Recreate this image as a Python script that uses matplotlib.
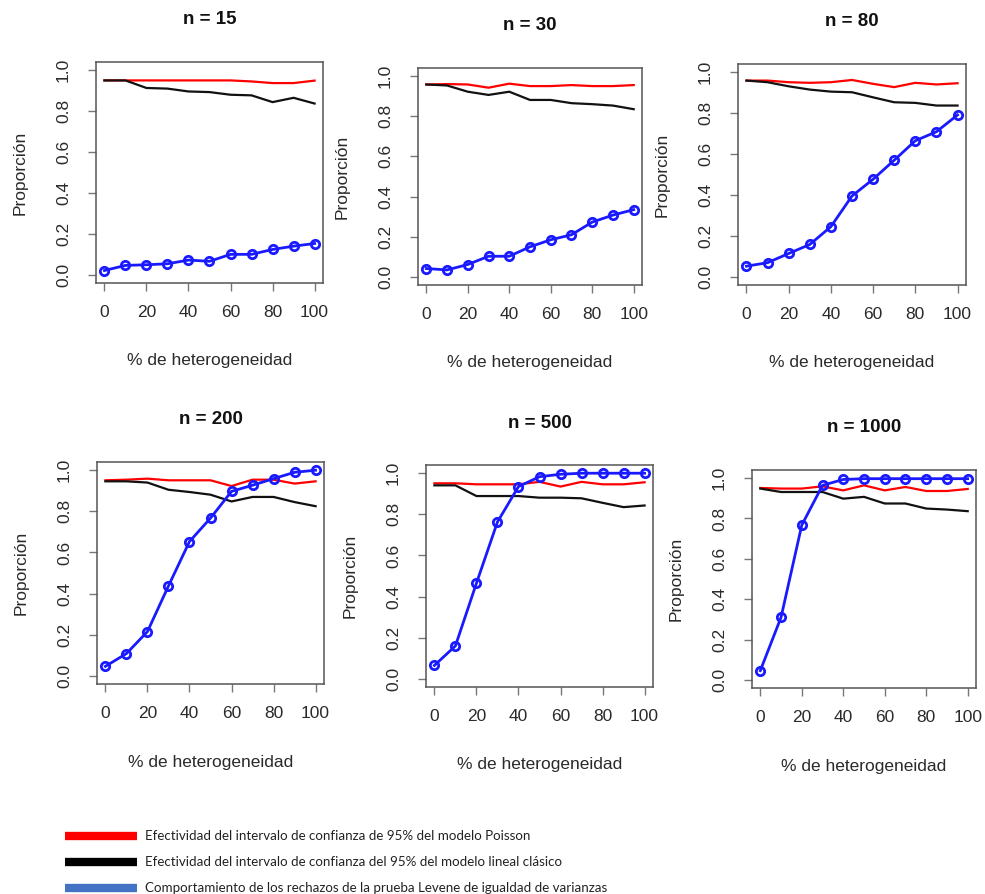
import matplotlib
matplotlib.use("Agg")
import matplotlib.pyplot as plt
from matplotlib.lines import Line2D

# Porcentaje de heterogeneidad evaluado
heterogeneidad = [0, 10, 20, 30, 40, 50, 60, 70, 80, 90, 100]
tamanos = ["n = 15", "n = 30", "n = 80", "n = 200", "n = 500", "n = 1000"]

# Efectividad del IC 95% del modelo Poisson
poisson = [
    [0.95, 0.95, 0.95, 0.95, 0.95, 0.95, 0.95, 0.945, 0.937, 0.937, 0.949],
    [0.958, 0.96, 0.958, 0.942, 0.962, 0.95, 0.95, 0.955, 0.95, 0.95, 0.955],
    [0.959, 0.959, 0.951, 0.948, 0.951, 0.962, 0.943, 0.927, 0.948, 0.94, 0.946],
    [0.951, 0.954, 0.959, 0.951, 0.951, 0.951, 0.923, 0.954, 0.954, 0.935, 0.946],
    [0.951, 0.951, 0.946, 0.946, 0.946, 0.958, 0.935, 0.958, 0.946, 0.946, 0.956],
    [0.951, 0.948, 0.948, 0.959, 0.939, 0.964, 0.939, 0.956, 0.936, 0.936, 0.946],
]

# Efectividad del IC 95% del modelo lineal clásico
lineal = [
    [0.95, 0.95, 0.913, 0.91, 0.896, 0.893, 0.88, 0.877, 0.844, 0.865, 0.837],
    [0.958, 0.953, 0.922, 0.906, 0.922, 0.881, 0.881, 0.865, 0.86, 0.853, 0.835],
    [0.959, 0.951, 0.931, 0.915, 0.905, 0.902, 0.877, 0.853, 0.85, 0.837, 0.837],
    [0.946, 0.946, 0.940, 0.905, 0.894, 0.881, 0.848, 0.870, 0.870, 0.845, 0.825],
    [0.941, 0.941, 0.889, 0.889, 0.889, 0.881, 0.881, 0.878, 0.856, 0.835, 0.843],
    [0.948, 0.931, 0.931, 0.931, 0.898, 0.907, 0.874, 0.874, 0.849, 0.844, 0.836],
]

# Proporción de rechazos de la prueba de Levene
levene = [
    [0.021, 0.046, 0.049, 0.054, 0.072, 0.066, 0.10, 0.10, 0.124, 0.14, 0.153],
    [0.042, 0.035, 0.062, 0.103, 0.103, 0.15, 0.185, 0.21, 0.273, 0.308, 0.335],
    [0.052, 0.069, 0.114, 0.158, 0.245, 0.395, 0.477, 0.570, 0.665, 0.709, 0.791],
    [0.046, 0.108, 0.215, 0.437, 0.653, 0.767, 0.897, 0.927, 0.959, 0.99, 1.0],
    [0.065, 0.16, 0.465, 0.763, 0.935, 0.983, 0.995, 1.0, 1.0, 1.0, 1.0],
    [0.046, 0.31, 0.767, 0.964, 0.993, 0.997, 0.997, 0.997, 0.997, 0.997, 0.997],
]

etiquetas_leyenda = [
    "Efectividad del intervalo de confianza de 95% del modelo Poisson",
    "Efectividad del intervalo de confianza del 95% del modelo lineal clásico",
    "Comportamiento de los rechazos de la prueba Levene de igualdad de varianzas",
]

W, H = 985, 894
# (left, top, right, bottom) of each panel in pixels
cajas = [
    (96, 62, 323, 283),
    (418, 68, 642, 285),
    (738, 64, 966, 285),
    (97, 462, 324, 684),
    (426, 465, 653, 687),
    (752, 470, 976, 688),
]

plt.rcParams["font.family"] = ["Liberation Sans", "DejaVu Sans"]
fig = plt.figure(figsize=(W / 100, H / 100), dpi=100)
texto = "#2a2a2a"

for i, (l, t, r, b) in enumerate(cajas):
    ax = fig.add_axes([l / W, 1 - b / H, (r - l) / W, (b - t) / H])
    ax.plot(heterogeneidad, poisson[i], color="#ff0000", lw=1.6)
    ax.plot(heterogeneidad, lineal[i], color="#111111", lw=1.6)
    ax.plot(heterogeneidad, levene[i], color="#1a1aff", lw=2.0, marker="o",
            ms=6, mfc="none", mec="#1a1aff", mew=2.0)
    ax.set_xlim(-4, 104)
    ax.set_ylim(-0.04, 1.04)
    ax.set_xticks([0, 20, 40, 60, 80, 100])
    ax.set_yticks([0.0, 0.2, 0.4, 0.6, 0.8, 1.0])
    ax.set_yticklabels(["0.0", "0.2", "0.4", "0.6", "0.8", "1.0"],
                       rotation=90, va="center")
    ax.tick_params(direction="out", length=6, width=1, color="#777777",
                   labelsize=12.5, labelcolor=texto)
    ax.tick_params(axis="x", pad=10)
    ax.tick_params(axis="y", pad=12)
    for s in ax.spines.values():
        s.set_color("#555555")
        s.set_linewidth(1.1)
    w_px, h_px = r - l, b - t
    ax.set_xlabel("% de heterogeneidad", fontsize=12.5, color=texto)
    ax.xaxis.label.set_va("center")
    ax.xaxis.set_label_coords(0.5, -78 / h_px)
    ax.set_ylabel("Proporción", fontsize=12.5, color=texto)
    ax.yaxis.label.set_va("center")
    ax.yaxis.set_label_coords(-76 / w_px, 0.5)
    ax.set_title(tamanos[i], fontsize=13.5, fontweight="bold", color="#111111",
                 y=1 + 42 / h_px, va="center", pad=0)

# Leyenda inferior
colores = ["#ff0000", "#000000", "#4472c4"]
ys = [836, 862, 888]
for c, y, lab in zip(colores, ys, etiquetas_leyenda):
    fig.add_artist(Line2D([65 / W, 137 / W], [1 - y / H, 1 - y / H],
                          color=c, lw=6, solid_capstyle="butt"))
    fig.text(145 / W, 1 - y / H, lab, fontsize=9.6, color="#222222",
             va="center", ha="left", family=["Lato", "DejaVu Sans"])

fig.savefig("out.png", dpi=100)
